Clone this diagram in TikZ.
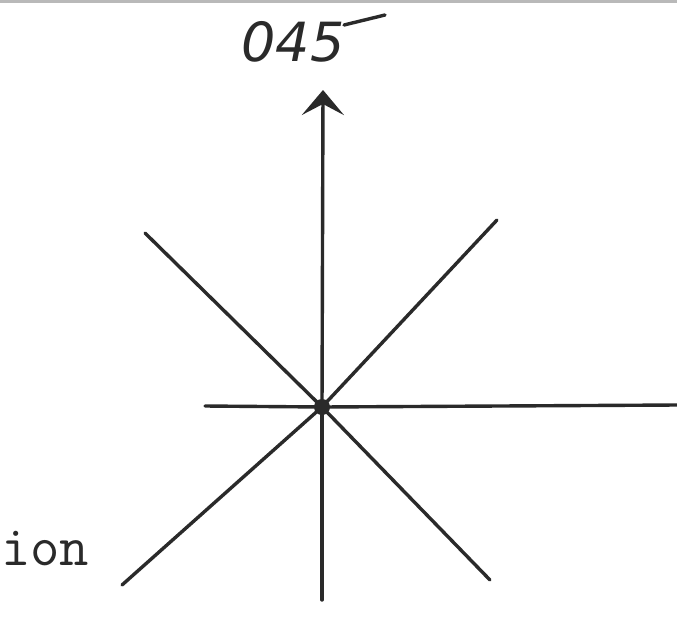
\documentclass[tikz,border=0pt]{standalone}
\usepackage{fontspec}
\newfontfamily\handfont{DejaVu Sans}
\usetikzlibrary{arrows.meta}
\definecolor{ink}{HTML}{2A2A2A}
\begin{document}
\begin{tikzpicture}[x=1pt,y=-1pt,
  ray/.style={draw=ink, line width=3.4pt, line cap=round},
  hand/.style={font=\handfont\itshape\fontsize{54}{54}\selectfont, text=ink, inner sep=0pt},
  typed/.style={font=\ttfamily\fontsize{57}{57}\selectfont, text=ink, inner sep=0pt, anchor=base west}]
\useasboundingbox (0,0) rectangle (677,640);
\fill[white] (0,0) rectangle (677,640);
\fill[gray!55] (0,0) rectangle (677,2.5);
% centre
\node[circle, fill=ink, inner sep=0pt, minimum size=16pt] (c) at (322,407) {};
% ray ends
\coordinate (n) at (323,90);
\coordinate (s) at (322,600);
\coordinate (w) at (205,406);
\coordinate (e) at (677,405);
\coordinate (nw) at (145,233);
\coordinate (ne) at (497,220);
\coordinate (sw) at (122,585);
\coordinate (se) at (490,580);
\draw[ray, -{Stealth[length=25pt,width=42pt,inset=11pt]}] (c.center) -- (n);
\draw[ray] (c.center) -- (s);
\draw[ray] (c.center) -- (w);
\draw[ray] (c.center) -- (e);
\draw[ray] (c.center) -- (nw);
\draw[ray] (c.center) -- (ne);
\draw[ray] (c.center) -- (sw);
\draw[ray] (c.center) -- (se);
% labels
\node[hand] (lab) at (293,42) {045};
\coordinate (flagA) at (344,25);
\coordinate (flagB) at (385,15);
\draw[ink, line width=3.4pt, line cap=round] (flagA) -- (flagB);
\node[typed] (ion) at (1,565) {ion};
\end{tikzpicture}
\end{document}
